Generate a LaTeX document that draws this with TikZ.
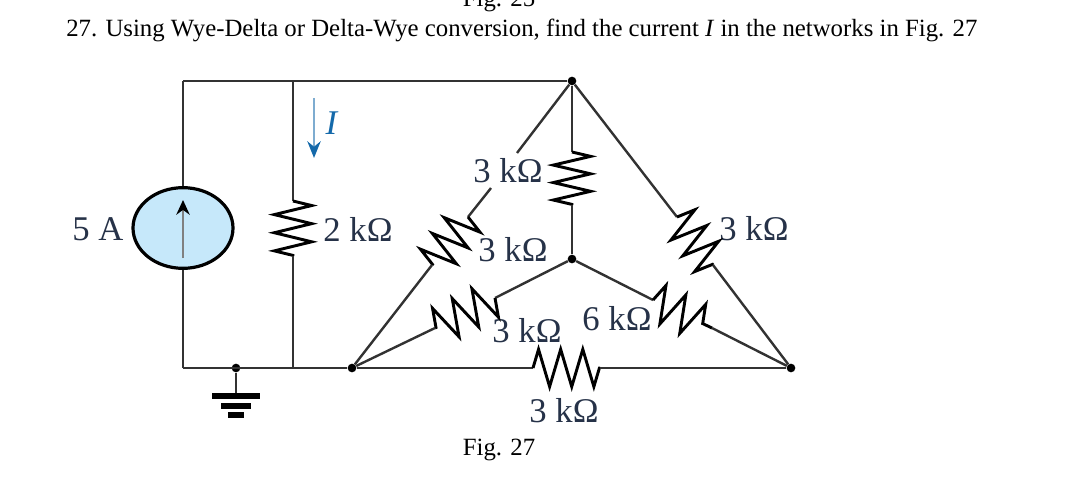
\documentclass[tikz,border=0pt]{standalone}
\usepackage{xcolor}
\usepackage{fontspec}
\setmainfont{Liberation Serif}
\usetikzlibrary{arrows.meta}
\usetikzlibrary{shapes.geometric}
\usetikzlibrary{decorations.pathmorphing}

\begin{document}
\begin{tikzpicture}[x=0.75pt,y=-0.75pt]
			\definecolor{WIRE}{RGB}{50, 50, 50}
			\definecolor{LABEL}{RGB}{38, 50, 72}
			\definecolor{SOURCE}{RGB}{198, 232, 250}
			\definecolor{CURRENT}{RGB}{20, 105, 170}
			\tikzset{
				wire/.style={-, draw, line width=1.8pt, color=WIRE},
				res/.style={-, draw, line width=2.2pt, color=black, line join=miter, decorate, decoration={zigzag, segment length=#1, amplitude=14pt}},
				dot/.style={circle, fill=black, inner sep=0pt, minimum size=6.5pt},
				lab/.style={color=LABEL, font=\fontsize{26}{26}\selectfont, inner sep=0pt},
				page/.style={color=black, font=\fontsize{18.6}{18.6}\selectfont, inner sep=0pt},
				gbar/.style={rectangle, fill=black, inner sep=0pt, minimum height=4.5pt}
			}
			\useasboundingbox (0, 0) rectangle (1080, 481);
			\node[page, anchor=base] (prevfig) at (499, 7) {Fig. 25};
			\node[page, anchor=base west] (title) at (66, 37) {27. Using Wye-Delta or Delta-Wye conversion, find the current \textit{I} in the networks in Fig. 27};
			\node[page] (figlabel) at (499, 450) {Fig. 27};
			\coordinate (topleft) at (183, 81);
			\coordinate (topmid) at (293, 81);
			\coordinate (botleft) at (183, 368);
			\coordinate (botmid) at (293, 368);
			\node[dot] (T) at (572, 81) {};
			\node[dot] (C) at (572, 259) {};
			\node[dot] (L) at (352, 368) {};
			\node[dot] (R) at (791, 368) {};
			\node[dot] (gnd) at (236, 368) {};
			\node[gbar, minimum width=36pt] (gbara) at (236, 396) {};
			\node[gbar, minimum width=22.5pt] (gbarb) at (236, 406) {};
			\node[gbar, minimum width=12pt] (gbarc) at (236, 415) {};
			\node[ellipse, draw=black, fill=SOURCE, line width=2.4pt, minimum width=75pt, minimum height=60.5pt, inner sep=0pt] (src) at (183, 228) {};
			\coordinate (srca) at (183, 258);
			\coordinate (srcb) at (183, 200);
			\coordinate (ia) at (314, 98);
			\coordinate (ib) at (314, 158);
			\coordinate (twoa) at (293, 201);
			\coordinate (twob) at (293, 256);
			\coordinate (tca) at (572, 152);
			\coordinate (tcb) at (572, 205);
			\coordinate (tlgapa) at (517, 153);
			\coordinate (tlgapb) at (491, 188);
			\coordinate (tla) at (468, 217);
			\coordinate (tlb) at (432, 265);
			\coordinate (tra) at (677, 217);
			\coordinate (trb) at (713, 265);
			\coordinate (cla) at (495, 298);
			\coordinate (clb) at (435, 328);
			\coordinate (cra) at (653, 300);
			\coordinate (crb) at (712, 328);
			\coordinate (lra) at (533, 368);
			\coordinate (lrb) at (600, 368);
			\node[lab] (lsrc) at (98, 229) {5 A};
			\node[lab] (ltwo) at (358, 229) {2 kΩ};
			\node[lab] (ltc) at (508, 171) {3 kΩ};
			\node[lab] (ltl) at (513, 250) {3 kΩ};
			\node[lab] (ltr) at (754, 229) {3 kΩ};
			\node[lab] (lcl) at (527, 331) {3 kΩ};
			\node[lab] (lcr) at (617, 319) {6 kΩ};
			\node[lab] (llr) at (564, 411) {3 kΩ};
			\node[lab, color=CURRENT] (li) at (332, 123) {\textit{I}};
			\draw[wire] (topleft) to (T);;
			\draw[wire] (topleft) to (src);;
			\draw[wire] (botleft) to (src);;
			\draw[wire] (botleft) to (L);;
			\draw[wire] (topmid) to (twoa);;
			\draw[res=13.6] (twoa) to (twob);;
			\draw[wire] (twob) to (botmid);;
			\draw[wire] (T) to (tca);;
			\draw[res=13.1] (tca) to (tcb);;
			\draw[wire] (tcb) to (C);;
			\draw[wire] (T) to (tlgapa);;
			\draw[wire] (tlgapb) to (tla);;
			\draw[res=14.8] (tla) to (tlb);;
			\draw[wire] (tlb) to (L);;
			\draw[wire] (T) to (tra);;
			\draw[res=14.8] (tra) to (trb);;
			\draw[wire] (trb) to (R);;
			\draw[wire] (C) to (cla);;
			\draw[res=16.5] (cla) to (clb);;
			\draw[wire] (clb) to (L);;
			\draw[wire] (C) to (cra);;
			\draw[res=16.5] (cra) to (crb);;
			\draw[wire] (crb) to (R);;
			\draw[wire] (L) to (lra);;
			\draw[res=16.6] (lra) to (lrb);;
			\draw[wire] (lrb) to (R);;
			\draw[wire, line width=2pt] (gnd) to (gbara);;
			\draw[-{Stealth[length=11pt,width=10pt,black]}, line width=2.2pt, color=gray] (srca) to (srcb);;
			\draw[-{Stealth[length=12.5pt,width=10pt,CURRENT]}, line width=1.8pt, color=CURRENT!55] (ia) to (ib);
		\end{tikzpicture}
\end{document}
